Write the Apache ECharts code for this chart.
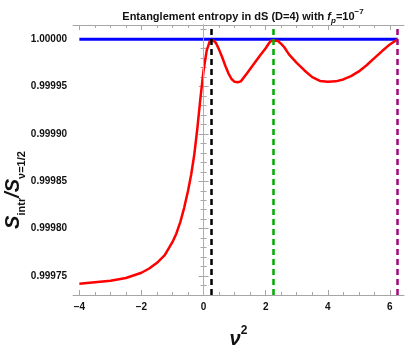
<!DOCTYPE html>
<html>
<head>
<meta charset="utf-8">
<script src="https://cdn.jsdelivr.net/npm/echarts@6/dist/echarts.min.js"></script>
<style>
html, body { margin: 0; padding: 0; background: #fff; }
#main { width: 409px; height: 354px; }
</style>
</head>
<body>
<div id="main"></div>
<script>
// ratio S_intr / S_(nu=1/2) against nu^2
var nuSq = [
	-4, -3.5, -3, -2.5, -2, -1.75, -1.5, -1.25, -1, -0.875, -0.75, -0.625, -0.5, -0.4, -0.3, -0.2, -0.1, 0, 0.1, 0.2, 0.25,
	0.3, 0.4, 0.5, 0.6, 0.7, 0.8, 0.9, 1.0, 1.1, 1.2, 1.4, 1.6, 1.8, 2.0, 2.1, 2.2, 2.25,
	2.4, 2.5, 2.6, 2.75, 3.0, 3.25, 3.5, 3.75, 4.0, 4.25, 4.5, 4.75, 5.0, 5.25, 5.5, 5.75, 6.0, 6.25
];
var ratio = [
	0.999742, 0.9997435, 0.999745, 0.999748, 0.9997535, 0.999758, 0.999764, 0.999772, 0.999786, 0.999795, 0.999807, 0.999822, 0.99984, 0.999857, 0.999878, 0.999906, 0.999938, 0.999967, 0.999988, 0.999998, 1.0,
	0.999999, 0.999996, 0.999989, 0.999981, 0.999972, 0.999964, 0.999958, 0.999955, 0.9999545, 0.9999555, 0.999964, 0.999973, 0.999982, 0.9999905, 0.9999955, 0.999999, 1.0,
	0.999998, 0.999995, 0.9999915, 0.999984, 0.999975, 0.999967, 0.99996, 0.999956, 0.999955, 0.9999555, 0.9999575, 0.999961, 0.999966, 0.9999725, 0.99998, 0.9999875, 0.9999945, 1.0
];

// reference level and marked nu^2 values
var refLine = [[-4, 1.0], [6.25, 1.0]];
var markX = [0.25, 2.25, 6.25];
var markColors = ['#000000', '#00aa00', '#a3077e'];

var xMajor = [-4, -2, 0, 2, 4, 6];
var xMinor = [-4, -3.5, -3, -2.5, -2, -1.5, -1, -0.5, 0, 0.5, 1, 1.5, 2, 2.5, 3, 3.5, 4, 4.5, 5, 5.5, 6];
var yMajor = [0.99975, 0.9998, 0.99985, 0.9999, 0.99995, 1.0];
var yMinor = [0.99973, 0.99974, 0.99975, 0.99976, 0.99977, 0.99978, 0.99979, 0.9998, 0.99981, 0.99982, 0.99983, 0.99984,
	0.99985, 0.99986, 0.99987, 0.99988, 0.99989, 0.9999, 0.99991, 0.99992, 0.99993, 0.99994, 0.99995, 0.99996,
	0.99997, 0.99998, 0.99999, 1.0, 1.00001];

var FONT = '"Liberation Sans Narrow", "Liberation Sans", Arial, sans-serif';
var frameColor = '#a6a6a6';

function axis(pos, ticks, len, labels, extra) {
	var a = {
		type: 'value',
		position: pos,
		axisLine: { show: labels, lineStyle: { color: frameColor, width: 1 } },
		axisTick: { show: true, inside: true, length: len, customValues: ticks, lineStyle: { color: frameColor } },
		axisLabel: { show: false },
		splitLine: { show: false }
	};
	for (var k in extra) a[k] = extra[k];
	return a;
}

var xr = { min: -4.205, max: 6.455 };
var yr = { min: 0.99973, max: 1.000015 };

var xAxes = [
	axis('bottom', xMajor, 5, true, xr),
	axis('bottom', xMinor, 3, false, xr),
	axis('top', xMajor, 5, true, xr),
	axis('top', xMinor, 3, false, xr)
];
xAxes[0].axisLabel = {
	show: true, customValues: xMajor, margin: 7,
	color: '#111', fontFamily: FONT, fontWeight: 'bold', fontSize: 10,
	formatter: function(v) { return v < 0 ? '\u2212' + Math.abs(v) : String(v); }
};
xAxes[0].name = '{v|\u03bd}{s|2}';
xAxes[0].nameLocation = 'middle';
xAxes[0].nameGap = 30;
xAxes[0].nameTextStyle = {
	rich: {
		v: { fontFamily: FONT, fontSize: 20, fontStyle: 'italic', fontWeight: 'bold', color: '#111', verticalAlign: 'bottom', lineHeight: 24 },
		s: { fontFamily: FONT, fontSize: 12, fontWeight: 'bold', color: '#111', verticalAlign: 'top', lineHeight: 24 }
	}
};

var yAxes = [
	axis('left', yMajor, 5, true, yr),
	axis('left', yMinor, 3, false, yr),
	axis('right', yMajor, 5, true, yr),
	axis('right', yMinor, 3, false, yr)
];
yAxes[0].axisLabel = {
	show: true, customValues: yMajor, margin: 6,
	color: '#111', fontFamily: FONT, fontWeight: 'bold', fontSize: 10,
	formatter: function(v) { return v.toFixed(5); }
};
yAxes[0].name = '{S|S}{sub|intr}{S|/S}{sub|\u03bd=1/2}';
yAxes[0].nameLocation = 'middle';
yAxes[0].nameGap = 46;
yAxes[0].nameMoveOverlap = false;
yAxes[0].nameTextStyle = {
	padding: [0, 60, 0, 0],
	rich: {
		S: { fontFamily: FONT, fontSize: 20, fontStyle: 'italic', fontWeight: 'bold', color: '#111', verticalAlign: 'top', lineHeight: 24 },
		sub: { fontFamily: FONT, fontSize: 11, fontWeight: 'bold', color: '#111', verticalAlign: 'bottom', lineHeight: 24 }
	}
};

var markData = [{ xAxis: 0, lineStyle: { color: '#b0b0b0', width: 1, type: 'solid' } }];
for (var i = 0; i < markX.length; i++) {
	markData.push({ xAxis: markX[i], lineStyle: { color: markColors[i], width: 2.5, type: [6, 4] } });
}

var curve = [];
for (var j = 0; j < nuSq.length; j++) curve.push([nuSq[j], ratio[j]]);

var option = {
	animation: false,
	backgroundColor: '#fff',
	title: {
		text: '{t|Entanglement entropy in dS (D=4) with }{f|f}{sub|p}{t|=10}{sup|\u22127}',
		left: 238,
		textAlign: 'center',
		top: 3,
		textStyle: {
			rich: {
				t: { fontFamily: FONT, fontSize: 11, fontWeight: 'bold', color: '#111', lineHeight: 17 },
				f: { fontFamily: FONT, fontSize: 11, fontWeight: 'bold', fontStyle: 'italic', color: '#111', lineHeight: 17 },
				sub: { fontFamily: FONT, fontSize: 8, fontWeight: 'bold', fontStyle: 'italic', color: '#111', verticalAlign: 'bottom', lineHeight: 17 },
				sup: { fontFamily: FONT, fontSize: 8, fontWeight: 'bold', color: '#111', verticalAlign: 'top', lineHeight: 17 }
			}
		}
	},
	grid: { left: 73, right: 5, top: 25, bottom: 59, containLabel: false, outerBoundsMode: 'none' },
	xAxis: xAxes,
	yAxis: yAxes,
	series: [{
		type: 'line',
		data: refLine,
		showSymbol: false,
		lineStyle: { color: '#0000ff', width: 3 },
		z: 3,
		markLine: {
			silent: true,
			symbol: 'none',
			label: { show: false },
			data: markData
		}
	}, {
		type: 'line',
		data: curve,
		smooth: false,
		showSymbol: false,
		lineStyle: { color: '#ff0000', width: 2.5, join: 'round' },
		z: 4
	}]
};

var chart = echarts.init(document.getElementById('main'));
chart.setOption(option);
</script>
</body>
</html>
